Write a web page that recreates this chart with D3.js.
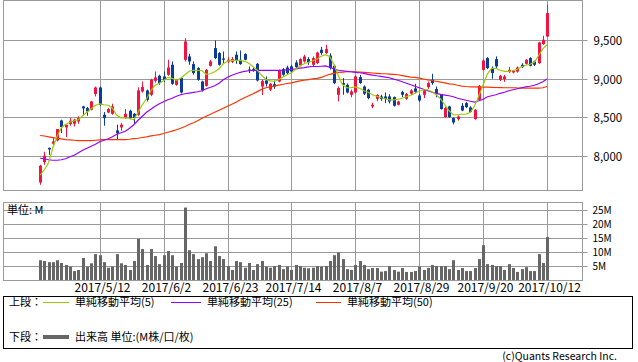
<!DOCTYPE html>
<html><head><meta charset="utf-8">
<script src="https://cdn.jsdelivr.net/npm/d3@7"></script>
<style>
body{margin:0;background:#fff}
svg{display:block}
text{font-family:"Noto Sans CJK JP","DejaVu Sans",sans-serif;fill:#000}
</style>
</head><body>
<svg id="c" width="638" height="362"></svg>
<script>
const dates=["2017/4/19","2017/4/20","2017/4/21","2017/4/24","2017/4/25","2017/4/26","2017/4/27","2017/4/28",
"2017/5/1","2017/5/2","2017/5/8","2017/5/9","2017/5/10","2017/5/11","2017/5/12","2017/5/15","2017/5/16","2017/5/17","2017/5/18","2017/5/19","2017/5/22","2017/5/23","2017/5/24","2017/5/25","2017/5/26","2017/5/29","2017/5/30","2017/5/31",
"2017/6/1","2017/6/2","2017/6/5","2017/6/6","2017/6/7","2017/6/8","2017/6/9","2017/6/12","2017/6/13","2017/6/14","2017/6/15","2017/6/16","2017/6/19","2017/6/20","2017/6/21","2017/6/22","2017/6/23","2017/6/26","2017/6/27","2017/6/28","2017/6/29","2017/6/30",
"2017/7/3","2017/7/4","2017/7/5","2017/7/6","2017/7/7","2017/7/10","2017/7/11","2017/7/12","2017/7/13","2017/7/14","2017/7/18","2017/7/19","2017/7/20","2017/7/21","2017/7/24","2017/7/25","2017/7/26","2017/7/27","2017/7/28","2017/7/31",
"2017/8/1","2017/8/2","2017/8/3","2017/8/4","2017/8/7","2017/8/8","2017/8/9","2017/8/10","2017/8/14","2017/8/15","2017/8/16","2017/8/17","2017/8/18","2017/8/21","2017/8/22","2017/8/23","2017/8/24","2017/8/25","2017/8/28","2017/8/29","2017/8/30","2017/8/31",
"2017/9/1","2017/9/4","2017/9/5","2017/9/6","2017/9/7","2017/9/8","2017/9/11","2017/9/12","2017/9/13","2017/9/14","2017/9/15","2017/9/19","2017/9/20","2017/9/21","2017/9/22","2017/9/25","2017/9/26","2017/9/27","2017/9/28","2017/9/29",
"2017/10/2","2017/10/3","2017/10/4","2017/10/5","2017/10/6","2017/10/10","2017/10/11","2017/10/12"];

const open=[7658,7922,8105,8159,8202,8460,8370,8414,8418,8447,8642,8621,8599,8802,8887,8534,8564,8547,8331,8370,
8495,8586,8547,8534,8836,8849,8793,8974,9039,9030,9052,9181,8922,9009,9246,9289,9190,9138,8965,8909,
9168,9397,9333,9263,9220,9220,9311,9246,9320,9120,9125,9194,8900,8978,8860,8930,8965,9125,9146,9160,
9211,9172,9224,9255,9181,9203,9375,9333,9300,9168,8793,8944,8922,8793,8823,9022,8900,8858,8642,8740,
8771,8771,8771,8763,8664,8828,8741,8806,8875,8784,8793,8892,8987,8867,8793,8504,8642,8491,8478,8651,
8685,8629,8478,8728,9116,9268,9138,9255,8987,8996,9087,9082,9094,9181,9194,9268,9224,9203,9449,9547];
const high=[7887,8055,8110,8233,8349,8470,8405,8492,8482,8513,8650,8634,8715,8900,8900,8569,8621,8677,8405,8427,
8608,8600,8556,8890,8965,8860,9000,9094,9052,9094,9246,9224,8995,9020,9527,9323,9224,9150,8975,9125,
9245,9496,9345,9353,9280,9280,9353,9366,9330,9160,9140,9203,8985,9030,8944,8975,9120,9140,9170,9180,
9240,9265,9310,9280,9290,9350,9414,9440,9330,9181,8900,9010,8940,8860,9045,9050,8915,8870,8690,8800,
8793,8823,8800,8771,8715,8845,8815,8865,8935,8806,8858,8965,9065,8900,8800,8640,8650,8500,8525,8685,
8700,8645,8610,8920,9250,9280,9160,9290,9050,9050,9155,9115,9160,9200,9255,9280,9235,9480,9556,9957];
const low=[7628,7887,8015,8124,8189,8297,8246,8392,8383,8417,8534,8521,8590,8771,8651,8392,8556,8534,8211,8327,
8480,8475,8418,8520,8820,8706,8775,8950,8922,8960,9039,8922,8910,8810,9224,9181,9052,8975,8835,8900,
9160,9255,9170,9203,9203,9203,9194,9181,9240,9074,9090,8965,8790,8900,8840,8870,8955,9040,9060,9080,
9140,9160,9210,9180,9160,9190,9310,9320,9120,8930,8706,8793,8810,8760,8810,8935,8790,8735,8620,8710,
8713,8685,8680,8640,8655,8763,8728,8790,8815,8700,8750,8870,8922,8760,8600,8495,8495,8410,8460,8580,
8620,8560,8470,8720,9105,9125,9000,9140,8970,8960,9075,9070,9080,9140,9185,9160,9165,9190,9440,9540];
const close=[7874,8004,8085,8189,8349,8375,8405,8457,8470,8491,8616,8577,8706,8887,8664,8491,8608,8642,8297,8405,
8547,8491,8491,8849,8893,8728,8987,9017,8944,8987,9146,8935,8987,8823,9483,9224,9074,8987,8849,9116,
9224,9268,9181,9246,9246,9255,9237,9190,9246,9110,9110,8978,8970,8935,8935,8900,9107,9052,9074,9094,
9151,9255,9289,9211,9268,9340,9333,9384,9138,8944,8880,8922,8823,8836,9030,8944,8806,8750,8664,8790,
8737,8737,8706,8651,8706,8793,8802,8849,8832,8719,8849,8944,8944,8806,8608,8621,8504,8435,8512,8590,
8633,8569,8599,8909,9237,9138,9074,9160,9039,9030,9116,9107,9146,9151,9246,9168,9181,9470,9505,9850];

const ma5=[7751,7822,7913,8107,8256,8366,8411,8437,8457,8469,8521,8566,8612,8657,8676,8664,8657,8618,8528,8495,
8495,8489,8469,8566,8664,8741,8845,8916,8942,8974,9019,9006,8981,9006,9052,9097,9110,9110,9104,9058,
9065,9091,9129,9194,9226,9239,9239,9239,9226,9201,9155,9110,9045,8994,8974,8968,8987,9022,9052,9078,
9123,9168,9194,9214,9233,9255,9291,9311,9285,9181,9039,8922,8884,8886,8896,8877,8845,8825,8793,8774,
8754,8741,8728,8728,8735,8748,8767,8786,8812,8838,8858,8858,8832,8793,8741,8664,8586,8534,8534,8541,
8543,8566,8651,8780,8922,9065,9136,9136,9110,9097,9097,9104,9123,9155,9175,9188,9214,9298,9388,9440];
const ma25=[7971,7965,7952,7945,7945,7952,7965,7991,8010,8042,8075,8101,8127,8152,8185,8204,8224,8249,8282,8301,
8321,8359,8405,8463,8515,8566,8605,8644,8676,8702,8728,8748,8774,8793,8806,8815,8823,8832,8845,8871,
8890,8909,8942,8987,9019,9045,9065,9084,9097,9104,9110,9110,9110,9110,9110,9110,9110,9113,9116,9123,
9129,9138,9145,9155,9159,9159,9162,9166,9149,9129,9110,9104,9097,9091,9084,9078,9071,9058,9048,9039,
9032,9022,9013,8996,8981,8961,8942,8922,8903,8884,8864,8845,8825,8812,8799,8789,8780,8767,8748,8735,
8722,8709,8698,8715,8735,8767,8780,8793,8812,8825,8845,8858,8871,8884,8896,8903,8916,8935,8961,8996];
const ma50=[8266,8259,8249,8239,8230,8221,8213,8208,8204,8200,8198,8198,8200,8204,8208,8211,8211,8211,8211,8211,
8213,8217,8224,8230,8240,8249,8260,8269,8278,8291,8308,8323,8340,8359,8383,8409,8431,8457,8489,8515,
8541,8566,8592,8618,8644,8670,8696,8728,8754,8780,8806,8834,8864,8884,8896,8906,8918,8929,8939,8948,
8961,8972,8981,8990,9000,9006,9019,9039,9058,9071,9082,9087,9091,9091,9091,9088,9084,9080,9075,9071,
9067,9065,9061,9056,9052,9041,9031,9022,9019,9009,8997,8987,8978,8968,8957,8946,8935,8929,8916,8906,
8900,8896,8894,8893,8893,8893,8890,8887,8886,8884,8884,8884,8881,8880,8880,8880,8880,8880,8884,8900];

const volume=[7.1,6.8,6.4,6.4,7.1,6.1,5.4,4.8,3.2,3.6,7.9,4.8,6.0,9.3,8.9,6.4,4.4,4.8,9.3,6.0,
5.4,3.6,6.8,14.8,11.1,5.4,11.1,8.6,5.7,8.9,10.4,8.9,4.8,6.1,26.0,10.7,9.3,7.5,8.2,9.6,
6.8,12.1,8.6,7.5,5.0,3.6,6.8,6.4,4.4,6.1,3.6,5.7,6.8,4.8,4.4,5.0,5.4,3.9,4.8,3.6,
5.4,5.0,4.4,4.2,4.4,5.0,4.8,5.0,6.8,8.9,9.9,7.5,3.9,3.6,5.4,6.8,5.4,3.9,4.3,4.3,
3.0,3.2,5.0,3.6,3.0,4.3,2.9,2.9,3.2,4.8,3.6,4.3,5.4,5.0,5.0,5.0,3.9,7.1,3.6,4.3,
3.2,3.2,4.3,7.5,12.5,5.7,5.4,5.0,5.0,3.6,5.7,4.3,2.9,3.9,4.6,3.2,3.2,9.3,6.1,15.4];

const priceTicks=[8000,8500,9000,9500];
const volumeTicks=[5,10,15,20,25];
const dateTicks=["2017/5/12","2017/6/2","2017/6/23","2017/7/14","2017/8/7","2017/8/29","2017/9/20","2017/10/12"];
const legendTop=[{label:"単純移動平均(5)",color:"#99cc00"},{label:"単純移動平均(25)",color:"#9900ff"},{label:"単純移動平均(50)",color:"#ff3300"}];

const UP="#f5123e", DOWN="#0b3c9c", GRID="#9a9a9a";
const svg=d3.select("#c");
const left=3, right=582;
const x=d3.scaleLinear().domain([-8.7,127.2]).range([left,right]);
const y=d3.scaleLinear().domain([7560,10020]).range([190,0]);
const yv=d3.scaleLinear().domain([0,28]).range([280,202]);
const tickIdx=dateTicks.map(d=>dates.indexOf(d));
const px=v=>Math.round(v)+0.5;

function panel(y0,y1){
  svg.append("rect").attr("x",left+0.5).attr("y",y0+0.5).attr("width",right-left).attr("height",y1-y0)
    .attr("fill","none").attr("stroke",GRID);
}
const gP=svg.append("g").attr("transform",`translate(${right+0.5},0.5)`)
  .call(d3.axisRight(y).tickValues(priceTicks).tickSizeInner(-(right-left)).tickSizeOuter(0).tickFormat(""));
gP.select(".domain").remove();
gP.selectAll("line").attr("stroke",GRID).attr("y1",0).attr("y2",0).attr("x1",-(right-left)).attr("x2",5);
gP.selectAll(".tick").attr("transform",d=>`translate(0,${Math.round(y(d))})`);
gP.selectAll(".tick").append("text").attr("x",11).attr("dy","0.36em").attr("font-size",11.5)
  .attr("fill","#000").text(d=>d3.format(",")(d));

const gV=svg.append("g").attr("transform",`translate(${right+0.5},0.5)`)
  .call(d3.axisRight(yv).tickValues(volumeTicks).tickSizeInner(-(right-left)).tickSizeOuter(0).tickFormat(""));
gV.select(".domain").remove();
gV.selectAll("line").attr("stroke",GRID).attr("x1",-(right-left)).attr("x2",5);
gV.selectAll(".tick").attr("transform",d=>`translate(0,${Math.round(yv(d))})`);
gV.selectAll(".tick").append("text").attr("x",10).attr("dy","0.34em").attr("font-size",10)
  .attr("fill","#000").text(d=>d+"M");

const gX=svg.append("g").attr("transform","translate(0,280)")
  .call(d3.axisBottom(x).tickValues(tickIdx).tickSize(0).tickFormat(i=>dates[i]));
gX.select(".domain").remove();
gX.selectAll(".tick").attr("transform",i=>`translate(${px(x(i))},0)`);
gX.selectAll("text").attr("y",11.5).attr("dy",0).attr("dx",2).attr("font-size",12).attr("fill","#000")
  .attr("font-family","'Noto Sans CJK JP',sans-serif");
tickIdx.forEach(i=>{
  svg.append("line").attr("x1",px(x(i))).attr("x2",px(x(i))).attr("y1",0).attr("y2",190).attr("stroke",GRID);
  svg.append("line").attr("x1",px(x(i))).attr("x2",px(x(i))).attr("y1",202).attr("y2",280).attr("stroke",GRID);
});
panel(0,190);
panel(202,280);

svg.append("g").selectAll("rect").data(volume).join("rect")
  .attr("x",(v,i)=>Math.round(x(i))-1).attr("width",3)
  .attr("y",v=>yv(v)).attr("height",v=>280-yv(v)).attr("fill","#666");
svg.append("text").attr("x",7).attr("y",214).attr("font-size",11).text("単位: M");

const cg=svg.append("g");
dates.forEach((d,i)=>{
  const o=open[i],c=close[i],col=c>=o?UP:DOWN,cx=Math.round(x(i));
  cg.append("line").attr("x1",cx+0.5).attr("x2",cx+0.5).attr("y1",y(high[i])).attr("y2",y(low[i]))
    .attr("stroke",col).attr("stroke-width",1);
  const t=y(Math.max(o,c)),b=y(Math.min(o,c));
  cg.append("rect").attr("x",cx-1).attr("width",3).attr("y",t).attr("height",Math.max(1,b-t)).attr("fill",col);
});

const line=d3.line().x((v,i)=>x(i)).y(v=>y(v));
[[ma50,"#ff3300"],[ma25,"#9900ff"],[ma5,"#99cc00"]].forEach(([s,col])=>{
  svg.append("path").attr("d",line(s)).attr("fill","none").attr("stroke",col).attr("stroke-width",1.2);
});

svg.append("rect").attr("x",3.5).attr("y",296.5).attr("width",629).attr("height",52).attr("fill","none").attr("stroke","#000");
svg.append("text").attr("x",9).attr("y",306).attr("font-size",11).text("上段：");
const lx=[[43,69,75],[171,201,207],[316,341,347]];
legendTop.forEach((l,k)=>{
  svg.append("line").attr("x1",lx[k][0]).attr("x2",lx[k][1]).attr("y1",302.5).attr("y2",302.5).attr("stroke",l.color);
  svg.append("text").attr("x",lx[k][2]).attr("y",306).attr("font-size",11).text(l.label);
});
svg.append("text").attr("x",9).attr("y",341).attr("font-size",11).text("下段：");
svg.append("line").attr("x1",43).attr("x2",69).attr("y1",337).attr("y2",337).attr("stroke","#666").attr("stroke-width",4);
svg.append("text").attr("x",75).attr("y",341).attr("font-size",11).text("出来高 単位:(M株/口/枚)");
svg.append("text").attr("x",617).attr("y",360).attr("text-anchor","end").attr("font-size",10.5).attr("fill","#333").text("(c)Quants Research Inc.");
</script>
</body></html>
